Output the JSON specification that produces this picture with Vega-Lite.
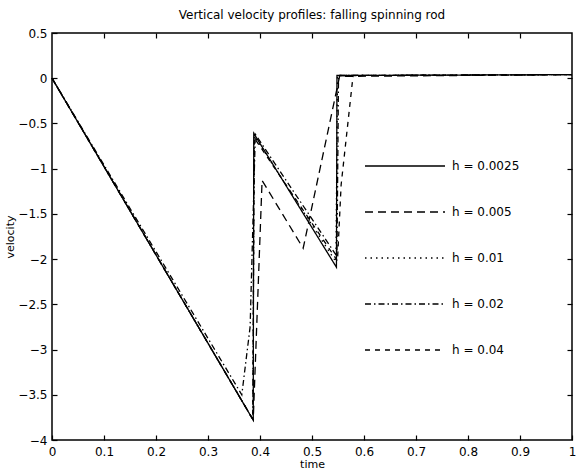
{
  "$schema": "https://vega.github.io/schema/vega-lite/v6.json",
  "width": 520,
  "height": 407,
  "autosize": {"type": "none"},
  "padding": {"left": 52, "top": 33, "right": 5, "bottom": 36},
  "background": "white",
  "title": {"text": "Vertical velocity profiles: falling spinning rod", "font": "DejaVu Sans", "fontSize": 12, "fontWeight": "normal", "color": "black", "offset": 5},
  "config": {
    "view": {"stroke": "black", "strokeWidth": 1.5},
    "font": "DejaVu Sans"
  },
  "data": {
    "values": [
      {"h": "h = 0.0025", "t": 0, "v": 0},
      {"h": "h = 0.0025", "t": 0.387, "v": -3.78},
      {"h": "h = 0.0025", "t": 0.388, "v": -0.61},
      {"h": "h = 0.0025", "t": 0.547, "v": -2.09},
      {"h": "h = 0.0025", "t": 0.548, "v": 0.03},
      {"h": "h = 0.0025", "t": 1, "v": 0.04},
      {"h": "h = 0.005", "t": 0, "v": 0},
      {"h": "h = 0.005", "t": 0.387, "v": -3.78},
      {"h": "h = 0.005", "t": 0.404, "v": -1.13},
      {"h": "h = 0.005", "t": 0.483, "v": -1.88},
      {"h": "h = 0.005", "t": 0.553, "v": 0.02},
      {"h": "h = 0.005", "t": 1, "v": 0.04},
      {"h": "h = 0.01", "t": 0, "v": 0},
      {"h": "h = 0.01", "t": 0.386, "v": -3.77},
      {"h": "h = 0.01", "t": 0.389, "v": -0.64},
      {"h": "h = 0.01", "t": 0.546, "v": -2.03},
      {"h": "h = 0.01", "t": 0.549, "v": 0.03},
      {"h": "h = 0.01", "t": 1, "v": 0.04},
      {"h": "h = 0.02", "t": 0, "v": 0},
      {"h": "h = 0.02", "t": 0.365, "v": -3.5},
      {"h": "h = 0.02", "t": 0.381, "v": -2.75},
      {"h": "h = 0.02", "t": 0.391, "v": -0.62},
      {"h": "h = 0.02", "t": 0.548, "v": -1.97},
      {"h": "h = 0.02", "t": 0.551, "v": 0.03},
      {"h": "h = 0.02", "t": 1, "v": 0.04},
      {"h": "h = 0.04", "t": 0, "v": 0},
      {"h": "h = 0.04", "t": 0.386, "v": -3.77},
      {"h": "h = 0.04", "t": 0.389, "v": -0.66},
      {"h": "h = 0.04", "t": 0.549, "v": -2.02},
      {"h": "h = 0.04", "t": 0.556, "v": -1.18},
      {"h": "h = 0.04", "t": 0.579, "v": 0.03},
      {"h": "h = 0.04", "t": 1, "v": 0.04}
    ]
  },
  "resolve": {"axis": {"x": "independent", "y": "independent"}},
  "layer": [
    {
      "mark": {"type": "line", "color": "black", "strokeWidth": 1.3},
      "encoding": {
        "x": {"field": "t", "type": "quantitative",
              "scale": {"domain": [0, 1], "nice": false, "zero": false},
              "axis": {"title": "time", "values": [0,0.1,0.2,0.3,0.4,0.5,0.6,0.7,0.8,0.9,1], "format": "~g", "grid": false, "domain": false,
                       "tickSize": -5, "tickColor": "black", "tickWidth": 1.2, "labelPadding": 11, "labelFontSize": 12, "labelFontWeight": "normal", "labelColor": "black",
                       "titleFontSize": 11, "titleFontWeight": "normal", "titleColor": "black", "titlePadding": 1, "labelFlush": false}},
        "y": {"field": "v", "type": "quantitative",
              "scale": {"domain": [-4, 0.5], "nice": false, "zero": false},
              "axis": {"title": "velocity", "values": [-4,-3.5,-3,-2.5,-2,-1.5,-1,-0.5,0,0.5], "format": "~g", "grid": false, "domain": false,
                       "tickSize": -5, "tickColor": "black", "tickWidth": 1.2, "labelPadding": 10, "labelFontSize": 12, "labelFontWeight": "normal", "labelColor": "black",
                       "titleFontSize": 11, "titleFontWeight": "normal", "titleColor": "black", "titlePadding": 2}},
        "detail": {"field": "h"},
        "strokeDash": {"field": "h", "type": "nominal",
          "scale": {"domain": ["h = 0.0025", "h = 0.005", "h = 0.01", "h = 0.02", "h = 0.04"],
                    "range": [[1, 0], [8, 5], [1.5, 4], [6, 3, 1.5, 3], [5, 5]]},
          "legend": {"title": null, "orient": "none", "legendX": 312, "legendY": 125, "padding": 0,
                     "symbolType": "stroke", "symbolSize": 6400, "symbolStrokeWidth": 1.4, "symbolStrokeColor": "black",
                     "clipHeight": 16, "rowPadding": 30, "labelFont": "DejaVu Sans", "labelFontSize": 12, "labelFontWeight": "normal", "labelColor": "black", "labelOffset": 6}}
      }
    },
    {
      "mark": {"type": "line", "opacity": 0},
      "encoding": {
        "x": {"field": "t", "type": "quantitative",
              "axis": {"orient": "top", "title": null, "labels": false, "values": [0.1,0.2,0.3,0.4,0.5,0.6,0.7,0.8,0.9], "grid": false, "domain": false,
                       "tickSize": -5, "tickColor": "black", "tickWidth": 1.2}},
        "y": {"field": "v", "type": "quantitative",
              "axis": {"orient": "right", "title": null, "labels": false, "values": [-3.5,-3,-2.5,-2,-1.5,-1,-0.5,0], "grid": false, "domain": false,
                       "tickSize": -5, "tickColor": "black", "tickWidth": 1.2}},
        "detail": {"field": "h"}
      }
    }
  ]
}
